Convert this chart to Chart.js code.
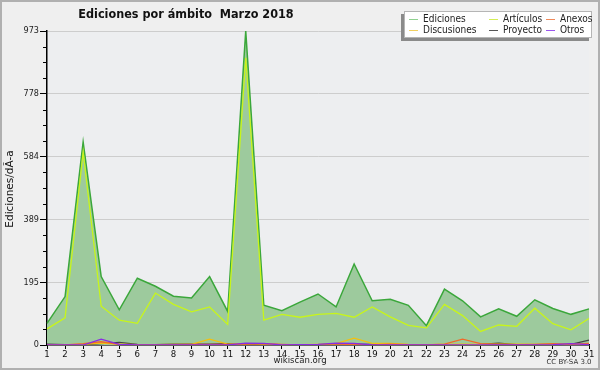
<!DOCTYPE html>
<html>
<head>
<meta charset="utf-8">
<script src="https://cdn.jsdelivr.net/npm/chart.js@4"></script>
<style>
  html, body { margin: 0; padding: 0; background: #efefef; }
  canvas { display: block; }
</style>
</head>
<body>
<canvas id="chart" width="600" height="370"></canvas>
<script>
// ─── DATA ───────────────────────────────────────────────────────
const days = ["1","2","3","4","5","6","7","8","9","10","11","12","13","14","15","16",
  "17","18","19","20","21","22","23","24","25","26","27","28","29","30","31"];

const ediciones = [67,150,629,212,109,207,182,151,146,212,104,973,123,106,133,158,
  118,251,137,142,123,60,173,137,87,112,89,140,113,95,112];
const articulos = [50,84,598,120,77,67,161,126,103,118,64,890,77,95,86,95,
  98,86,118,87,61,53,126,91,42,62,58,114,66,47,82];
const anexos = [0,0,4,10,2,0,0,1,2,2,2,3,4,2,0,0,0,2,0,3,1,0,3,18,4,2,1,2,4,2,5];
const discusiones = [1,0,2,6,3,1,1,2,2,18,3,4,3,1,1,2,4,21,5,5,2,1,2,3,2,3,3,2,2,2,2];
const proyecto = [3,1,1,4,8,2,1,3,3,3,4,2,2,1,1,1,4,3,2,1,1,1,1,1,2,6,1,1,2,2,15];
const otros = [0,0,0,18,2,0,0,0,0,0,0,6,5,0,1,2,6,5,0,0,0,0,0,0,0,0,0,0,1,4,1];

const yMax = 973;
const yTicks = [0, 194.6, 389.2, 583.8, 778.4, 973];

const FONT = "'DejaVu Sans', sans-serif";
const FONT_C = "'DejaVu Sans Condensed', 'DejaVu Sans', sans-serif";

// ─── PLUGIN: background, title, legend, minor ticks, footer ────
const decor = {
  id: "decor",
  beforeDraw(chart) {
    const { ctx, chartArea: a } = chart;
    ctx.save();
    ctx.fillStyle = "#efefef";
    ctx.fillRect(0, 0, chart.width, chart.height);
    ctx.strokeStyle = "#b0b0b0";
    ctx.lineWidth = 2;
    ctx.strokeRect(1, 1, chart.width - 2, chart.height - 2);
    ctx.fillStyle = "#edeef0";
    ctx.fillRect(a.left, a.top, a.right - a.left, a.bottom - a.top);
    ctx.restore();
  },
  afterDraw(chart) {
    const { ctx, chartArea: a } = chart;
    const y = chart.scales.y;
    ctx.save();

    // minor ticks on the y axis
    ctx.strokeStyle = "#000";
    ctx.lineWidth = 1;
    for (let i = 0; i < yTicks.length - 1; i++) {
      const step = (yTicks[i + 1] - yTicks[i]) / 4;
      for (let k = 1; k < 4; k++) {
        const py = Math.round(y.getPixelForValue(yTicks[i] + step * k)) + 0.5;
        ctx.beginPath();
        ctx.moveTo(a.left - 4, py);
        ctx.lineTo(a.left, py);
        ctx.stroke();
      }
    }

    // title
    ctx.fillStyle = "#111";
    ctx.font = "bold 12.5px " + FONT_C;
    ctx.textAlign = "center";
    ctx.textBaseline = "middle";
    ctx.fillText("Ediciones por ámbito  Marzo 2018", 186, 15);

    // y axis label
    ctx.save();
    ctx.translate(10, 189);
    ctx.rotate(-Math.PI / 2);
    ctx.font = "10.5px " + FONT;
    ctx.fillStyle = "#111";
    ctx.fillText("Ediciones/dÃ-a", 0, 0);
    ctx.restore();

    // footer
    ctx.font = "9.5px " + FONT_C;
    ctx.fillStyle = "#222";
    ctx.fillText("wikiscan.org", 300, 361);
    ctx.font = "7px " + FONT;
    ctx.fillStyle = "#333";
    ctx.fillText("CC BY-SA 3.0", 569, 362);

    // legend box
    const lx = 404, ly = 11, lw = 188, lh = 27;
    ctx.fillStyle = "#8a8a8a";
    ctx.fillRect(lx - 3, ly + 3, lw, lh);
    ctx.fillStyle = "#fff";
    ctx.fillRect(lx, ly, lw, lh);
    ctx.strokeStyle = "#b5b5b5";
    ctx.lineWidth = 1;
    ctx.strokeRect(lx + 0.5, ly + 0.5, lw - 1, lh - 1);

    const cols = [409, 489, 546];
    const rows = [19, 30];
    ctx.font = "10px " + FONT_C;
    ctx.textAlign = "left";
    chart.data.datasets.forEach((ds, i) => {
      const cx = cols[i % 3], cy = rows[Math.floor(i / 3)];
      ctx.strokeStyle = ds.legendColor;
      ctx.lineWidth = 1;
      ctx.beginPath();
      ctx.moveTo(cx, cy + 0.5);
      ctx.lineTo(cx + 9, cy + 0.5);
      ctx.stroke();
      ctx.fillStyle = "#222";
      ctx.fillText(ds.label, cx + 14, cy);
    });
    ctx.restore();
  },
};

// ─── CHART ──────────────────────────────────────────────────────
const line = (label, data, color, legendColor, width, order, extra) => ({
  label, data, borderColor: color, legendColor, borderWidth: width, order,
  pointRadius: 0, tension: 0, fill: false, ...extra,
});

new Chart(document.getElementById("chart"), {
  type: "line",
  data: {
    labels: days,
    datasets: [
      line("Ediciones", ediciones, "#3ba73b", "#8fd18f", 1.5, 10,
        { fill: "origin", backgroundColor: "#9dca9d" }),
      line("Artículos", articulos, "#c8f51a", "#d4ee55", 1.3, 9),
      line("Anexos", anexos, "#f06a2a", "#f08a5a", 1.3, 5),
      line("Discusiones", discusiones, "#f2c010", "#f2d060", 1.3, 6),
      line("Proyecto", proyecto, "#444444", "#555555", 1.3, 7),
      line("Otros", otros, "#8a2be2", "#9a55ee", 1.3, 4),
    ],
  },
  options: {
    responsive: false,
    animation: false,
    events: [],
    layout: { padding: { left: 0, right: 11, top: 31, bottom: 0 } },
    plugins: { legend: { display: false }, title: { display: false }, tooltip: { enabled: false } },
    scales: {
      x: {
        type: "category",
        offset: false,
        grid: { drawOnChartArea: false, drawTicks: true, tickLength: 4, color: "#000" },
        border: { display: true, color: "#000", width: 1.5 },
        ticks: { color: "#111", font: { family: FONT_C, size: 9.5 }, padding: 0, maxRotation: 0, autoSkip: false },
        afterFit(scale) { scale.height = 25; },
      },
      y: {
        min: 0,
        max: yMax,
        afterBuildTicks(scale) { scale.ticks = yTicks.map((v) => ({ value: v })); },
        grid: { color: "#cdcdcd", tickColor: "#000", tickLength: 7, lineWidth: 1 },
        border: { display: true, color: "#000", width: 1.5 },
        ticks: {
          color: "#222",
          font: { family: FONT_C, size: 9 },
          padding: 1,
          callback: (v) => Math.round(v),
        },
        afterFit(scale) { scale.width = 47; },
      },
    },
  },
  plugins: [decor],
});
</script>
</body>
</html>
